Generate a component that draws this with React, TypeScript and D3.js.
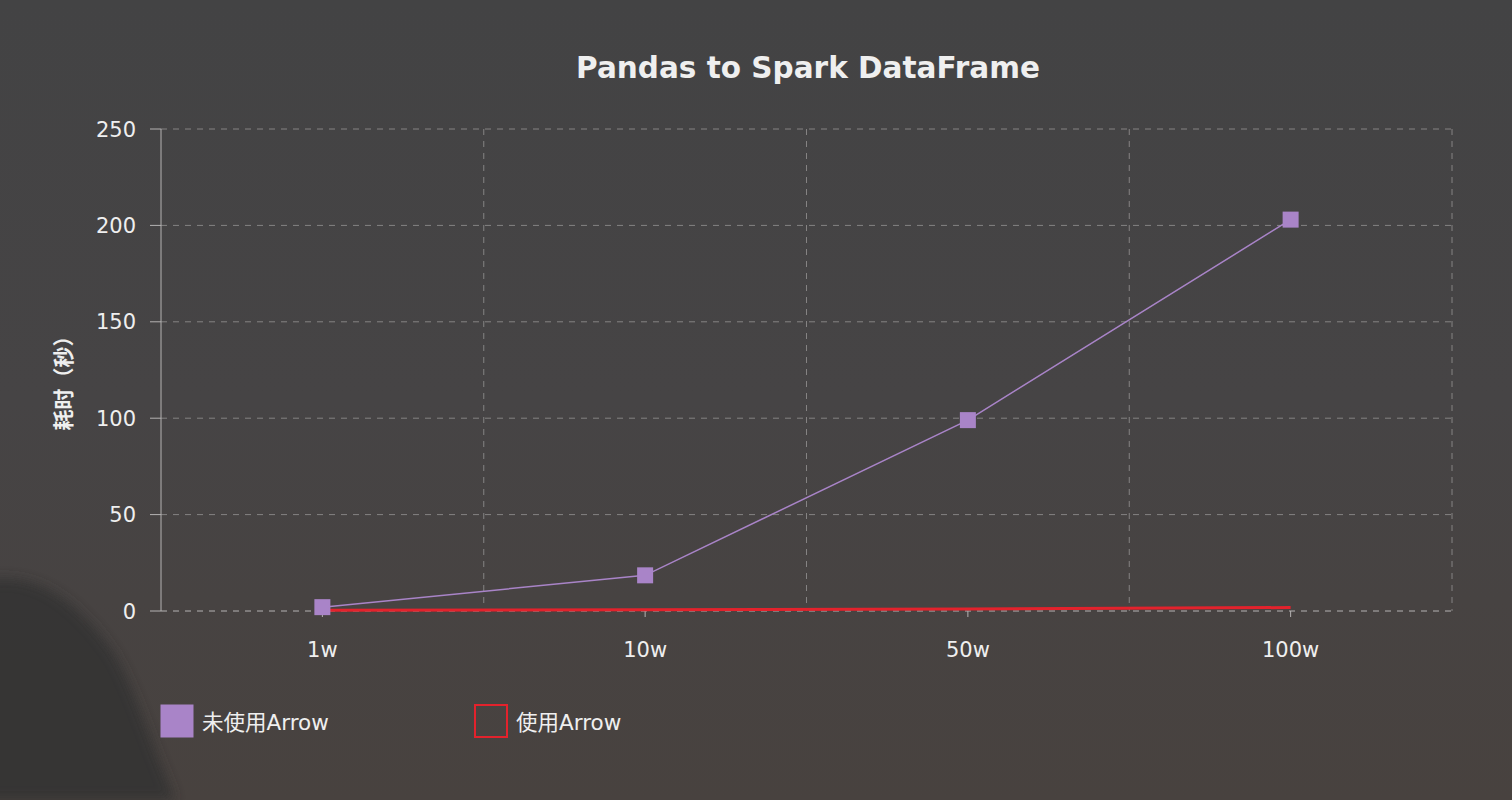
import React from "react";
import * as d3 from "d3";

const categories = ["1w", "10w", "50w", "100w"];
const noArrow = [2, 18.5, 99, 203];
const withArrow = [0.4, 0.6, 1.0, 1.8];
const yTicks = [0, 50, 100, 150, 200, 250];
const seriesNames = ["未使用Arrow", "使用Arrow"];

const W = 1512, H = 800;
const M = { left: 161, right: 1452, top: 129, bottom: 611 };
const FONT = "'DejaVu Sans', 'Noto Sans CJK SC', sans-serif";
const PURPLE = "#a984c8";
const RED = "#e3222c";
const GRID = "#858383";
const TXT = "#efefef";

export default function App() {
  const x = d3.scaleBand<string>().domain(categories).range([M.left, M.right]);
  const y = d3.scaleLinear().domain([0, 250]).range([M.bottom, M.top]);
  const cx = (c: string) => (x(c) as number) + x.bandwidth() / 2;
  const line = d3.line<number>().x((_, i) => cx(categories[i])).y((d) => y(d));
  const bounds = categories.slice(1).map((c) => x(c) as number).concat([M.right]);

  return (
    <div style={{ position: "fixed", left: 0, top: 0 }}>
      <svg width={W} height={H} style={{ display: "block" }}>
        <defs>
          <linearGradient id="bg" x1="0" y1="0" x2="0" y2="1">
            <stop offset="0" stopColor="#434344" />
            <stop offset="0.5" stopColor="#464445" />
            <stop offset="1" stopColor="#48423f" />
          </linearGradient>
          <filter id="blur" x="-20%" y="-20%" width="140%" height="140%">
            <feGaussianBlur stdDeviation="6" />
          </filter>
        </defs>
        <rect width={W} height={H} fill="url(#bg)" />
        <path
          d="M-20,800 L-20,582 C0,576 25,578 45,588 C70,600 95,625 115,655 C135,690 150,740 175,800 Z"
          fill="#333130"
          opacity={0.8}
          filter="url(#blur)"
        />
        <text x={808} y={78} textAnchor="middle" fill={TXT} fontFamily={FONT} fontWeight="bold" fontSize={29.5}>
          Pandas to Spark DataFrame
        </text>
        {yTicks.map((t) => (
          <g key={t}>
            <line x1={M.left} x2={M.right} y1={y(t)} y2={y(t)} stroke={t === 0 ? "#b5b3b3" : GRID} strokeDasharray="6,6" strokeWidth={1} />
            <line x1={150} x2={M.left} y1={y(t)} y2={y(t)} stroke="#b5b3b3" strokeWidth={1} />
            <text x={136} y={y(t) + 7.5} textAnchor="end" fill={TXT} fontFamily={FONT} fontSize={21}>
              {t}
            </text>
          </g>
        ))}
        {bounds.map((b, i) => (
          <line key={i} x1={b} x2={b} y1={M.top} y2={M.bottom} stroke={GRID} strokeDasharray="6,6" strokeWidth={1} />
        ))}
        <line x1={M.left} x2={M.left} y1={M.top} y2={M.bottom} stroke="#b5b3b3" strokeWidth={1} />
        {categories.map((c) => (
          <g key={c}>
            <line x1={cx(c)} x2={cx(c)} y1={M.bottom} y2={M.bottom + 6} stroke="#b5b3b3" />
            <text x={cx(c)} y={657} textAnchor="middle" fill={TXT} fontFamily={FONT} fontSize={21}>
              {c}
            </text>
          </g>
        ))}
        <text
          transform={`translate(71,378) rotate(-90)`}
          textAnchor="middle"
          fill={TXT}
          fontFamily={FONT}
          fontWeight="bold"
          fontSize={21}
        >
          耗时（秒）
        </text>
        <path d={line(withArrow) || ""} fill="none" stroke={RED} strokeWidth={3} />
        <path d={line(noArrow) || ""} fill="none" stroke={PURPLE} strokeWidth={1.5} />
        {noArrow.map((v, i) => (
          <rect key={i} x={cx(categories[i]) - 8} y={y(v) - 8} width={16} height={16} fill={PURPLE} />
        ))}
        <rect x={160.5} y={704.5} width={33} height={33} fill={PURPLE} />
        <text x={202} y={730} fill={TXT} fontFamily={FONT} fontSize={21.5}>
          {seriesNames[0]}
        </text>
        <rect x={475} y={705} width={32} height={32} fill="none" stroke={RED} strokeWidth={2} />
        <text x={516} y={730} fill={TXT} fontFamily={FONT} fontSize={21.5}>
          {seriesNames[1]}
        </text>
      </svg>
    </div>
  );
}
